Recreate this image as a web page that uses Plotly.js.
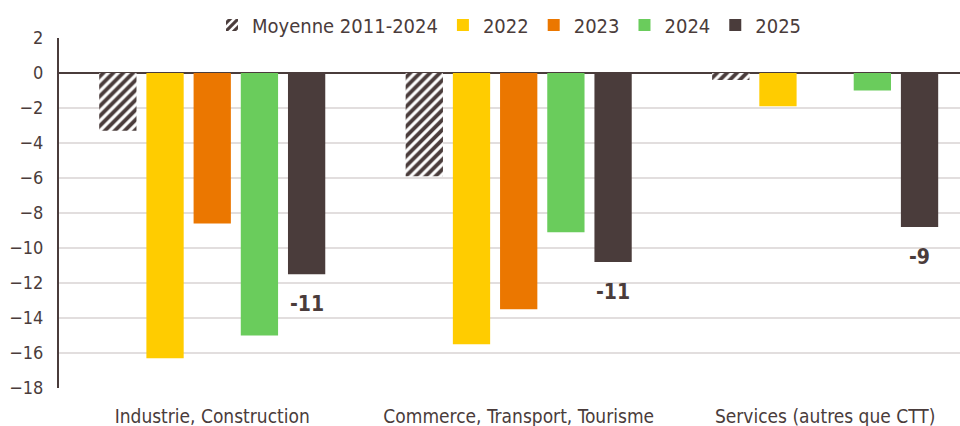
<!DOCTYPE html>
<html>
<head>
<meta charset="utf-8">
<script src="https://cdn.plot.ly/plotly-3.0.1.min.js"></script>
<style>
    html, body { margin: 0; padding: 0; background: #fff; }
    #chart { width: 960px; height: 426px; }
</style>
</head>
<body>
<div id="chart"></div>
<script>
const categories = ['Industrie, Construction', 'Commerce, Transport, Tourisme', 'Services (autres que CTT)'];
const moyenne = [-3.3, -5.9, -0.4];
const v2022 = [-16.3, -15.5, -1.9];
const v2023 = [-8.6, -13.5, null];
const v2024 = [-15.0, -9.1, -1.0];
const v2025 = [-11.5, -10.8, -8.8];
const labels2025 = ['-11', '-11', '-9'];

const INK = '#4a3c3b';
const FONT = '"DejaVu Sans Condensed", "Roboto", sans-serif';
const BARGAP = 0.23;
const NSERIES = 5;

function barTrace(name, y, color) {
    return {
        type: 'bar', name: name, x: categories, y: y,
        marker: { color: color, line: { width: 0 } },
        hoverinfo: 'y'
    };
}

const traces = [
    {
        type: 'bar', name: 'Moyenne 2011-2024', x: categories, y: moyenne,
        marker: {
            color: '#ffffff',
            line: { width: 0 },
            pattern: { shape: '/', fgcolor: INK, bgcolor: '#ffffff', size: 7, solidity: 0.55 }
        }
    },
    barTrace('2022', v2022, '#ffcc00'),
    barTrace('2023', v2023, '#eb7700'),
    barTrace('2024', v2024, '#6acc5c'),
    barTrace('2025', v2025, INK)
];

// label under each 2025 bar (5th slot of the group)
const slot = (1 - BARGAP) / NSERIES;
const annotations = v2025.map((v, i) => ({
    x: i + 2 * slot, y: v, xref: 'x', yref: 'y',
    text: '<b>' + labels2025[i] + '</b>',
    showarrow: false, yanchor: 'top', yshift: -16,
    font: { family: FONT, size: 21, color: INK }
}));

const layout = {
    width: 960, height: 426,
    margin: { l: 59, r: 0, t: 38, b: 38 },
    paper_bgcolor: '#fff', plot_bgcolor: '#fff',
    font: { family: FONT, color: INK, size: 18 },
    barmode: 'group', bargap: BARGAP, bargroupgap: 0.21,
    showlegend: true,
    legend: {
        orientation: 'h', x: 0.5, xanchor: 'center', y: 1.037, yanchor: 'middle',
        font: { family: FONT, size: 20, color: INK }, traceorder: 'normal'
    },
    xaxis: {
        type: 'category', range: [-0.5, 2.44],
        showgrid: false, showline: false, zeroline: false,
        ticks: '', ticklabelstandoff: 15,
        tickfont: { family: FONT, size: 19, color: INK }
    },
    yaxis: {
        range: [-18, 2], dtick: 2, tick0: 0,
        showgrid: true, gridcolor: '#e2dede', gridwidth: 2,
        zeroline: true, zerolinecolor: INK, zerolinewidth: 2,
        showline: true, linecolor: INK, linewidth: 2,
        ticks: '', ticklabelstandoff: 10,
        tickfont: { family: FONT, size: 18, color: INK }
    },
    annotations: annotations
};

Plotly.newPlot('chart', traces, layout, { displayModeBar: false, staticPlot: true });
</script>
</body>
</html>
